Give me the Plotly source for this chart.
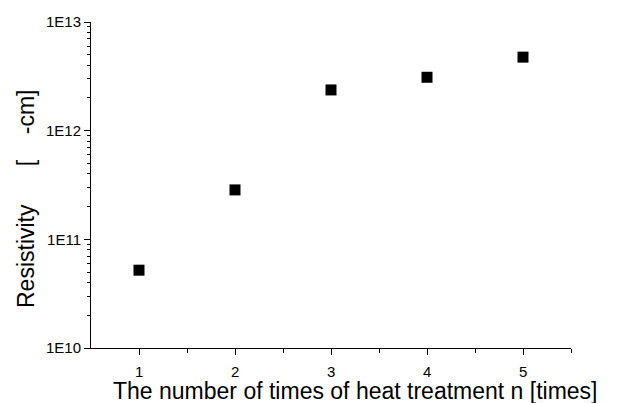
import plotly.graph_objects as go

n_times = [1, 2, 3, 4, 5]
resistivity = [5.2e10, 2.85e11, 2.37e12, 3.1e12, 4.75e12]
ytick_vals = [1e10, 1e11, 1e12, 1e13]
ytick_text = ["1E10", "1E11", "1E12", "1E13"]
xtick_vals = [1, 2, 3, 4, 5]
xtick_text = ["1", "2", "3", "4", "5"]

fig = go.Figure()
fig.add_trace(go.Scatter(
    x=n_times, y=resistivity, mode="markers",
    marker=dict(symbol="square", size=11, color="black"),
    showlegend=False,
))

font_family = "Liberation Sans, Arial, sans-serif"
L, R, T, B = 91, 571, 22, 348
annotations = [
    dict(text=t, xref="x", yref="paper", x=v, y=0, yshift=-23,
         xanchor="center", yanchor="middle", showarrow=False,
         font=dict(size=15))
    for v, t in zip(xtick_vals, xtick_text)
]
annotations += [
    dict(text="The number of times of heat treatment n [times]",
         xref="paper", yref="paper", x=(355 - L) / (R - L), y=0, yshift=-43,
         xanchor="center", yanchor="middle", showarrow=False,
         font=dict(size=23)),
    dict(text="Resistivity      [    -cm]",
         xref="paper", yref="paper", x=-(L - 26) / (R - L),
         y=(B - 199) / (B - T),
         xanchor="center", yanchor="middle", showarrow=False,
         textangle=-90, font=dict(size=23)),
]

fig.update_layout(
    width=617, height=403,
    margin=dict(l=L, r=617 - R, t=T, b=403 - B),
    paper_bgcolor="white", plot_bgcolor="white",
    font=dict(family=font_family, color="black"),
    xaxis=dict(
        range=[0.5, 5.5], tickvals=xtick_vals, ticks="outside", ticklen=6,
        tickwidth=1, tickcolor="black", showline=True, linecolor="black",
        linewidth=1, showgrid=False, zeroline=False, showticklabels=False,
        minor=dict(tickvals=[1.5, 2.5, 3.5, 4.5, 5.5], ticks="outside",
                   ticklen=4, tickcolor="black"),
    ),
    yaxis=dict(
        type="log", range=[10, 13], tickvals=ytick_vals, ticktext=ytick_text,
        ticks="outside", ticklen=6, tickwidth=1, tickcolor="black",
        showline=True, linecolor="black", linewidth=1, showgrid=False,
        zeroline=False, tickfont=dict(size=15),
        minor=dict(ticks="outside", ticklen=3, tickcolor="black",
                   dtick="D1", showgrid=False),
    ),
    annotations=annotations,
)

fig.write_html("out.html", config={"displayModeBar": False},
               post_script="document.body.style.margin='0';document.body.style.padding='0';")
